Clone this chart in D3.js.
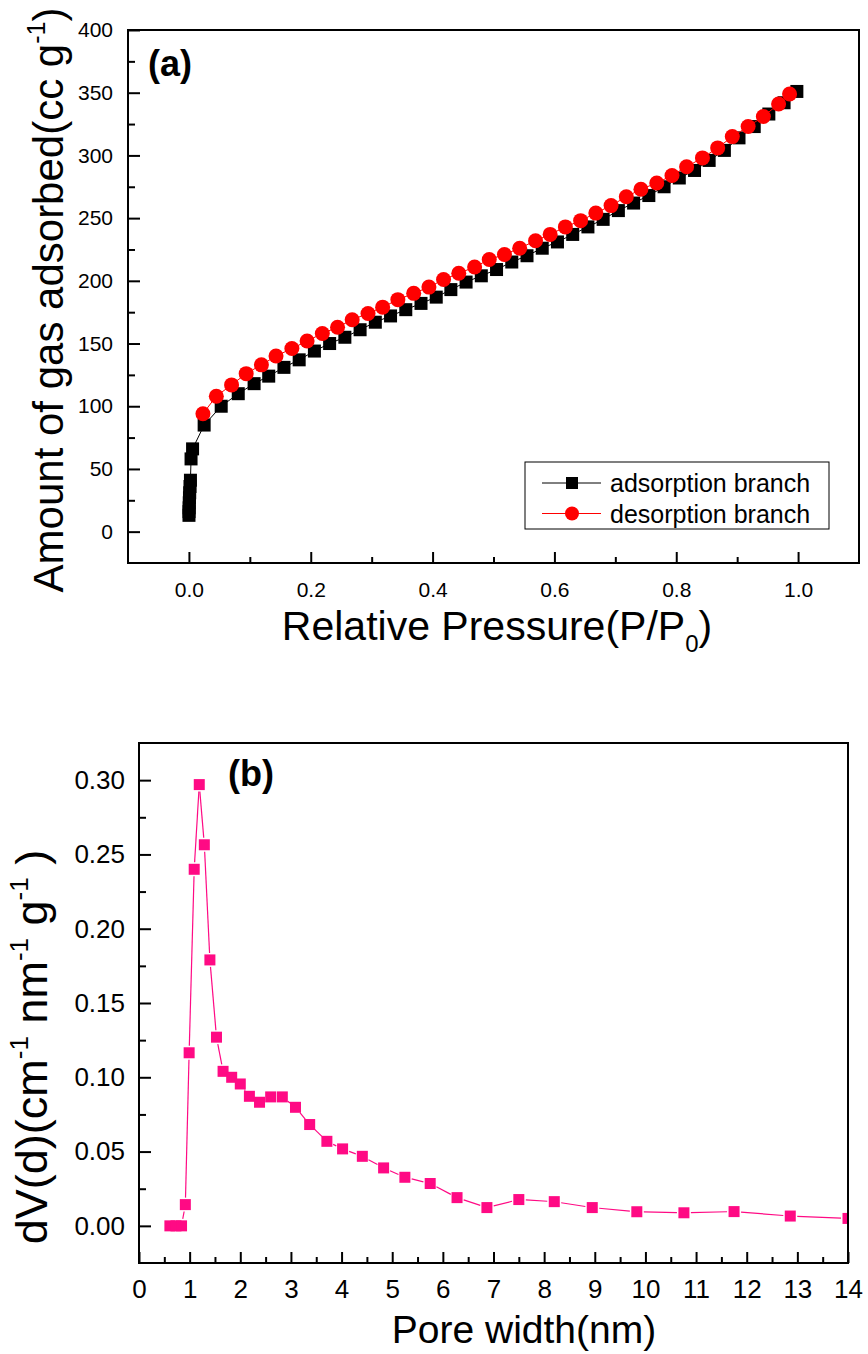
<!DOCTYPE html>
<html>
<head>
<meta charset="utf-8">
<script src="https://cdn.jsdelivr.net/npm/d3@7"></script>
<style>
  body { margin: 0; background: #fff; }
  svg text { font-family: "Liberation Sans", Arial, sans-serif; fill: #000; }
</style>
</head>
<body>
<div id="chart"></div>
<script>
// (a) N2 isotherm
const adsPressure = [0.0001, 0.0002, 0.0004, 0.0006, 0.0009, 0.0013, 0.0018, 0.0025, 0.0035, 0.006,
  0.025, 0.053, 0.081, 0.107, 0.131, 0.156, 0.181, 0.206, 0.231, 0.256, 0.281, 0.306, 0.331, 0.356,
  0.381, 0.406, 0.43, 0.455, 0.48, 0.505, 0.53, 0.555, 0.58, 0.605, 0.63, 0.655, 0.68, 0.705, 0.73,
  0.755, 0.78, 0.805, 0.83, 0.854, 0.879, 0.903, 0.928, 0.952, 0.977, 0.998];
const adsVolume = [13, 16, 19, 23, 27, 31, 36, 41, 58, 66,
  85, 100, 110, 118, 124, 131, 137, 144, 150, 155, 161, 167, 172, 177,
  182, 187, 193, 199, 204, 209, 215, 220, 226, 231, 237, 243, 249, 256, 262,
  268, 275, 282, 288, 296, 304, 314, 323, 333, 342, 351];
const desPressure = [0.023, 0.045, 0.07, 0.094, 0.119, 0.143, 0.169, 0.194, 0.219, 0.244, 0.268,
  0.294, 0.318, 0.343, 0.369, 0.394, 0.418, 0.443, 0.469, 0.493, 0.518, 0.543, 0.569, 0.593, 0.618,
  0.643, 0.668, 0.693, 0.718, 0.742, 0.768, 0.793, 0.817, 0.843, 0.868, 0.892, 0.918, 0.943, 0.968, 0.986];
const desVolume = [94, 108, 117, 126, 133, 140, 146, 152, 158, 163, 169,
  174, 179, 185, 190, 195, 201, 206, 211, 217, 221, 226, 232, 237, 243,
  248, 254, 260, 267, 273, 278, 284, 291, 298, 306, 315, 323, 331, 341, 349];
const isoXTicks = [0, 0.2, 0.4, 0.6, 0.8, 1.0];
const isoXMinor = [0.1, 0.3, 0.5, 0.7, 0.9];
const isoYTicks = [0, 50, 100, 150, 200, 250, 300, 350, 400];
const isoYMinor = [25, 75, 125, 175, 225, 275, 325, 375];
const legendNames = ["adsorption branch", "desorption branch"];

// (b) pore size distribution
const poreWidth = [0.61, 0.73, 0.84, 0.915, 0.99, 1.09, 1.19, 1.29, 1.40, 1.53, 1.66, 1.83, 2.00,
  2.18, 2.38, 2.60, 2.83, 3.09, 3.37, 3.71, 4.02, 4.41, 4.83, 5.25, 5.75, 6.28, 6.87, 7.50, 8.20,
  8.95, 9.83, 10.76, 11.75, 12.86, 14.0];
const poreDv = [0, 0, 0, 0.0143, 0.1165, 0.240, 0.297, 0.2565, 0.179, 0.127, 0.104, 0.100, 0.0955,
  0.0872, 0.0832, 0.0868, 0.0868, 0.0798, 0.0682, 0.0569, 0.0518, 0.0468, 0.039, 0.0327, 0.0285,
  0.019, 0.0123, 0.0177, 0.0163, 0.0123, 0.0095, 0.0088, 0.0096, 0.0066, 0.005];
const psdXTicks = d3.range(0, 15, 1);
const psdXMinor = d3.range(0.5, 14, 1);
const psdYTicks = [0, 0.05, 0.10, 0.15, 0.20, 0.25, 0.30];
const psdYMinor = [0.025, 0.075, 0.125, 0.175, 0.225, 0.275];

const svg = d3.select("#chart").append("svg")
  .attr("width", 868)
  .attr("height", 1354);

// draws ticks (inward) + frame for a panel
function drawAxes(g, x, y, o) {
  const [x0, x1] = x.range();
  const [y0, y1] = y.range(); // y0 = bottom
  const bx = g.append("g").attr("transform", `translate(0,${y0})`)
    .call(d3.axisBottom(x).tickValues(o.xMinor).tickSize(-6).tickFormat(""));
  const bxM = g.append("g").attr("transform", `translate(0,${y0})`)
    .call(d3.axisBottom(x).tickValues(o.xTicks).tickSize(-11).tickPadding(o.xPad).tickFormat(o.xFmt));
  const ly = g.append("g").attr("transform", `translate(${x0},0)`)
    .call(d3.axisLeft(y).tickValues(o.yMinor).tickSize(-7).tickFormat(""));
  const lyM = g.append("g").attr("transform", `translate(${x0},0)`)
    .call(d3.axisLeft(y).tickValues(o.yTicks).tickSize(-12).tickPadding(o.yPad).tickFormat(o.yFmt));
  [bx, bxM, ly, lyM].forEach(a => {
    a.select(".domain").remove();
    a.selectAll("line").attr("stroke", "#000").attr("stroke-width", 2);
    a.selectAll("text").attr("font-size", o.fs + "px").attr("fill", "#000")
      .style("font-family", '"Liberation Sans", Arial, sans-serif');
  });
  g.append("rect")
    .attr("x", x0).attr("y", y1)
    .attr("width", x1 - x0).attr("height", y0 - y1)
    .attr("fill", "none").attr("stroke", "#000").attr("stroke-width", 2);
}

// ---------- panel (a) ----------
const xA = d3.scaleLinear().domain([-0.1, 1.1]).range([128, 859]);
const yA = d3.scaleLinear().domain([-25, 400]).range([563, 30]);
const gA = svg.append("g");

const ads = adsPressure.map((p, i) => [p, adsVolume[i]]);
const des = desPressure.map((p, i) => [p, desVolume[i]]);
const lineA = d3.line().x(d => xA(d[0])).y(d => yA(d[1]));

gA.append("path").datum(ads).attr("d", lineA)
  .attr("fill", "none").attr("stroke", "#000").attr("stroke-width", 1);
gA.selectAll("rect.ads").data(ads).enter().append("rect")
  .attr("class", "ads")
  .attr("x", d => xA(d[0]) - 6.5).attr("y", d => yA(d[1]) - 6.5)
  .attr("width", 13).attr("height", 13).attr("fill", "#000");

gA.append("path").datum(des).attr("d", lineA)
  .attr("fill", "none").attr("stroke", "#ff0000").attr("stroke-width", 1);
gA.selectAll("circle.des").data(des).enter().append("circle")
  .attr("class", "des")
  .attr("cx", d => xA(d[0])).attr("cy", d => yA(d[1]))
  .attr("r", 7.5).attr("fill", "#ff0000");

drawAxes(gA, xA, yA, {
  xTicks: isoXTicks, xMinor: isoXMinor, yTicks: isoYTicks, yMinor: isoYMinor,
  xFmt: d3.format(".1f"), yFmt: d3.format("d"), xPad: 19, yPad: 15, fs: 21
});

gA.append("text").attr("x", 148).attr("y", 76)
  .attr("font-size", "36px").attr("font-weight", "bold").text("(a)");

// legend
const leg = gA.append("g");
leg.append("rect").attr("x", 525).attr("y", 462).attr("width", 304).attr("height", 67)
  .attr("fill", "#fff").attr("stroke", "#000").attr("stroke-width", 1);
legendNames.forEach((name, i) => {
  const cy = 483 + i * 30.5;
  const col = i === 0 ? "#000" : "#ff0000";
  leg.append("line").attr("x1", 542).attr("x2", 601).attr("y1", cy).attr("y2", cy)
    .attr("stroke", col).attr("stroke-width", 1);
  if (i === 0) {
    leg.append("rect").attr("x", 566).attr("y", cy - 6).attr("width", 12).attr("height", 12).attr("fill", col);
  } else {
    leg.append("circle").attr("cx", 572).attr("cy", cy).attr("r", 7).attr("fill", col);
  }
  leg.append("text").attr("x", 610).attr("y", cy + 9).attr("font-size", "25px").text(name);
});

// axis titles (a)
const yTitleA = gA.append("text")
  .attr("transform", "translate(63,300) rotate(-90)")
  .attr("text-anchor", "middle").attr("font-size", "42px");
yTitleA.append("tspan").text("Amount of gas adsorbed(cc g");
yTitleA.append("tspan").attr("font-size", "25px").attr("dy", -18).text("-1");
yTitleA.append("tspan").attr("dy", 18).text(")");

const xTitleA = gA.append("text")
  .attr("x", 497).attr("y", 640)
  .attr("text-anchor", "middle").attr("font-size", "41px");
xTitleA.append("tspan").text("Relative Pressure(P/P");
xTitleA.append("tspan").attr("font-size", "24px").attr("dy", 12).text("0");
xTitleA.append("tspan").attr("dy", -12).text(")");

// ---------- panel (b) ----------
const xB = d3.scaleLinear().domain([0, 14]).range([139, 848]);
const yB = d3.scaleLinear().domain([-0.025, 0.325]).range([1263, 743]);
const gB = svg.append("g");
const pink = "#ff0a84";

svg.append("clipPath").attr("id", "clipB").append("rect")
  .attr("x", 139).attr("y", 743).attr("width", 709).attr("height", 520);

const psd = poreWidth.map((w, i) => [xB(w), yB(poreDv[i])]);
// line segments with small gaps around symbols
const segs = [];
const gap = 7;
for (let i = 1; i < psd.length; i++) {
  const [ax, ay] = psd[i - 1], [bx, by] = psd[i];
  const dx = bx - ax, dy = by - ay, len = Math.hypot(dx, dy);
  if (len <= 2 * gap) continue;
  const ux = dx / len, uy = dy / len;
  segs.push([ax + ux * gap, ay + uy * gap, bx - ux * gap, by - uy * gap]);
}
const plotB = gB.append("g").attr("clip-path", "url(#clipB)");
plotB.selectAll("line.seg").data(segs).enter().append("line")
  .attr("class", "seg")
  .attr("x1", d => d[0]).attr("y1", d => d[1]).attr("x2", d => d[2]).attr("y2", d => d[3])
  .attr("stroke", pink).attr("stroke-width", 1.2);
plotB.selectAll("rect.pt").data(psd).enter().append("rect")
  .attr("class", "pt")
  .attr("x", d => d[0] - 5.5).attr("y", d => d[1] - 5.5)
  .attr("width", 11).attr("height", 11).attr("fill", pink);

drawAxes(gB, xB, yB, {
  xTicks: psdXTicks, xMinor: psdXMinor, yTicks: psdYTicks, yMinor: psdYMinor,
  xFmt: d3.format("d"), yFmt: d3.format(".2f"), xPad: 17, yPad: 14, fs: 26
});

gB.append("text").attr("x", 228).attr("y", 786)
  .attr("font-size", "36px").attr("font-weight", "bold").text("(b)");

const xTitleB = gB.append("text")
  .attr("x", 524).attr("y", 1343)
  .attr("text-anchor", "middle").attr("font-size", "39px").text("Pore width(nm)");

const yTitleB = gB.append("text")
  .attr("transform", "translate(47,1047) rotate(-90)")
  .attr("text-anchor", "middle").attr("font-size", "45px");
yTitleB.append("tspan").text("dV(d)(cm");
yTitleB.append("tspan").attr("font-size", "26px").attr("dy", -19).text("-1");
yTitleB.append("tspan").attr("dy", 19).text("  nm");
yTitleB.append("tspan").attr("font-size", "26px").attr("dy", -19).text("-1");
yTitleB.append("tspan").attr("dy", 19).text("   g");
yTitleB.append("tspan").attr("font-size", "26px").attr("dy", -19).text("-1");
yTitleB.append("tspan").attr("dy", 19).text("  )");
</script>
</body>
</html>
